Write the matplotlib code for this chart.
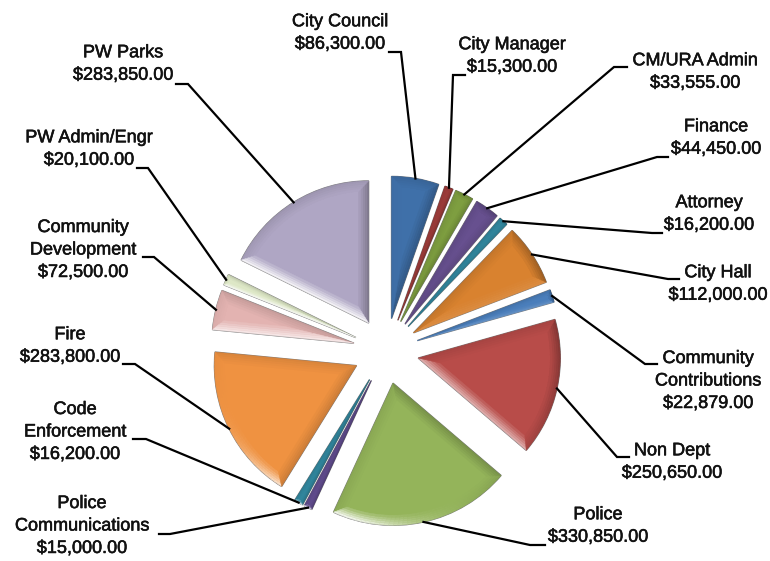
import numpy as np
import matplotlib
matplotlib.use("Agg")
import matplotlib.pyplot as plt
import matplotlib.patheffects as pe
from matplotlib.collections import PolyCollection
from matplotlib.colors import to_rgb

# ----------------------------------
# Data
# ----------------------------------

names = [
    "City Council", "City Manager", "CM/URA Admin", "Finance", "Attorney",
    "City Hall", "Community\nContributions", "Non Dept", "Police",
    "Police\nCommunications", "Code\nEnforcement", "Fire",
    "Community\nDevelopment", "PW Admin/Engr", "PW Parks",
]
amounts = [
    86300, 15300, 33555, 44450, 16200,
    112000, 22879, 250650, 330850,
    15000, 16200, 283800,
    72500, 20100, 283850,
]
colors = [
    "#3F70A9", "#9A3B39", "#7E9E40", "#67508F", "#31859C",
    "#D9822F", "#4A7EBB", "#B84C49", "#94B45A",
    "#5F4B8B", "#31859C", "#EF9241",
    "#E3B3B1", "#DDE7C6", "#AFA6C4",
]

# label centre (px), then the elbow points of the leader (px)
label_pos = [
    (340, 33), (512, 56), (695, 72), (716, 138), (709, 214),
    (718, 284), (708, 381), (672, 462), (598, 526),
    (82, 526), (75, 432), (70, 346),
    (83, 250), (89, 149), (123, 64),
]
elbows = [
    [(401, 52), (389, 52)], [(453, 75), (465, 75)], [(614, 67), (627, 67)],
    [(657, 157), (668, 157)], [(652, 233), (662, 233)],
    [(668, 279), (679, 279)], [(645, 364), (657, 364)], [(617, 457), (629, 457)],
    [(530, 545), (545, 545)],
    [(170, 534), (159, 534)], [(146, 439), (133, 439)], [(135, 364), (123, 364)],
    [(154, 257), (143, 257)], [(148, 168), (137, 168)], [(188, 84), (176, 84)],
]

W, H = 770, 561


def px(p):
    return p[0], H - p[1]


def wedge_outline(w, shrink=0.0):
    # polygon of the wedge, pulled inwards by shrink pixels
    t1, t2 = np.radians(w.theta1), np.radians(w.theta2)
    mid = (t1 + t2) / 2
    half = (t2 - t1) / 2
    d = shrink / np.sin(half)
    cx = w.center[0] + d * np.cos(mid)
    cy = w.center[1] + d * np.sin(mid)
    # arc stays concentric with the original wedge
    r = w.r - shrink
    # angle where the moved straight edges meet the smaller arc
    da = half - np.arcsin(np.clip(d * np.sin(half) / r, -1, 1))
    tt = np.linspace(mid - da, mid + da, 40)
    xs = w.center[0] + r * np.cos(tt)
    ys = w.center[1] + r * np.sin(tt)
    return np.r_[[cx], xs], np.r_[[cy], ys]


def shade(base, nx, ny):
    light = max(nx * -0.35 + ny * -0.94, 0) ** 8
    dark = max(nx * 0.93 + ny * 0.2, 0) ** 2
    edge = max(nx * -0.5 + ny * 0.85, 0) ** 2
    c = np.array(base)
    c = c + (1 - c) * 0.85 * light
    c = c * (1 - 0.3 * dark)
    c = c * (1 - 0.1 * edge)
    return c


def bevel(ax, w, base):
    half = np.radians(w.theta2 - w.theta1) / 2
    inner = w.r * np.sin(half) / (1 + np.sin(half))
    width = min(10, inner * 0.6)
    steps = 5
    for k in range(steps):
        x0, y0 = wedge_outline(w, width * k / steps)
        x1, y1 = wedge_outline(w, width * (k + 1) / steps)
        polys, cols = [], []
        n = len(x0)
        for i in range(n):
            j = (i + 1) % n
            dx, dy = x0[j] - x0[i], y0[j] - y0[i]
            ln = np.hypot(dx, dy) or 1
            # outline runs counter-clockwise, outward normal is to the right
            nx, ny = dy / ln, -dx / ln
            polys.append([(x0[i], y0[i]), (x0[j], y0[j]), (x1[j], y1[j]), (x1[i], y1[i])])
            f = 1 - k / steps
            c = shade(base, nx, ny) * f + np.array(base) * (1 - f)
            cols.append(np.clip(c, 0, 1))
        ax.add_collection(PolyCollection(polys, facecolors=cols, edgecolors=cols,
                                         linewidths=0.3, zorder=3))


# ----------------------------------
# Plot
# ----------------------------------

plt.rcParams["font.family"] = ["Liberation Sans", "DejaVu Sans"]

fig = plt.figure(figsize=(W / 100, H / 100), dpi=100)
ax = fig.add_axes([0, 0, 1, 1])

# explode is in data units here, the axes are in pixels
wedges, _ = ax.pie(
    amounts,
    explode=[33] * len(amounts),
    colors=colors,
    startangle=90,
    counterclock=False,
    center=(386, H - 351),
    radius=142,
    frame=True,
    wedgeprops={"edgecolor": "#7A7A7A", "linewidth": 1.0, "zorder": 2},
)
ax.set_xlim(0, W)
ax.set_ylim(0, H)
ax.set_aspect("equal")
ax.axis("off")

for w, c in zip(wedges, colors):
    bevel(ax, w, to_rgb(c))

for w, name, amt, pos, elbow in zip(wedges, names, amounts, label_pos, elbows):
    mid = np.radians((w.theta1 + w.theta2) / 2)
    start = (w.center[0] + w.r * np.cos(mid), w.center[1] + w.r * np.sin(mid))
    pts = [start] + [px(p) for p in elbow]
    ax.plot([p[0] for p in pts], [p[1] for p in pts], color="black", lw=1.6,
            solid_joinstyle="miter", zorder=4)
    lx, ly = px(pos)
    ax.text(lx, ly, f"{name}\n${amt:,.2f}", ha="center", va="center",
            fontsize=13, linespacing=1.42, color="#111111", zorder=5,
            path_effects=[pe.withStroke(linewidth=0.4, foreground="#111111")])

fig.savefig("out.png", dpi=100)
